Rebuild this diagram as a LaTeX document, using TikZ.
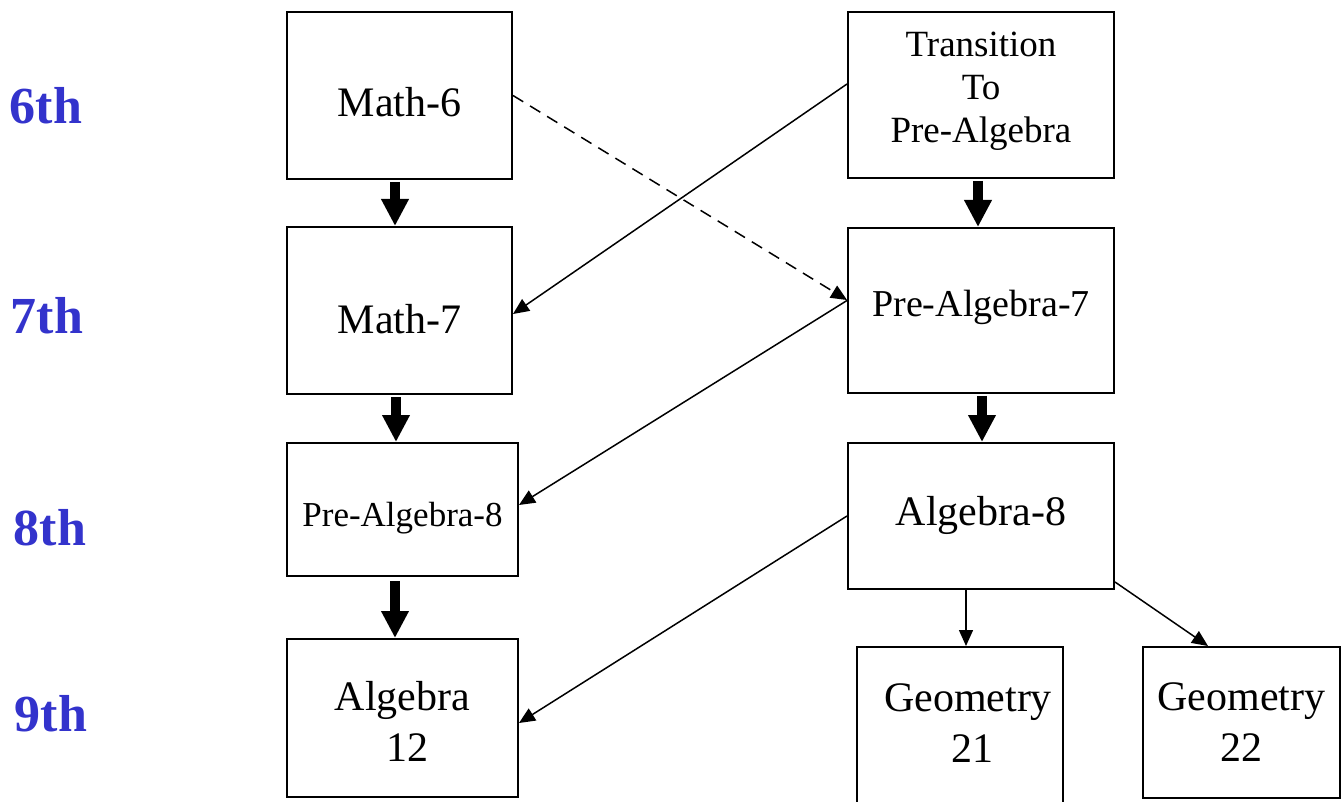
\documentclass[tikz,border=0pt]{standalone}
\usepackage{fontspec}
\setmainfont{Liberation Serif}
\usetikzlibrary{arrows.meta,calc}
\definecolor{gradeblue}{RGB}{51,51,204}
\tikzset{
  box/.style={draw, line width=2pt, inner sep=0pt},
  txt/.style={align=center, inner sep=0pt},
  grade/.style={text=gradeblue, font=\fontsize{52}{60}\selectfont\bfseries, anchor=base},
  big/.style={font=\fontsize{42}{51}\selectfont},
  thick arrow/.style={line width=10pt, -{Triangle[width=26pt,length=27pt]}},
  thin arrow/.style={line width=1.5pt, -{Triangle[width=14pt,length=16pt]}},
}
\begin{document}
\begin{tikzpicture}[x=1pt,y=-1pt]
\useasboundingbox (0,0) rectangle (1342,802);
% grade labels
\node[grade] (g6) at (46,124) {6th};
\node[grade] (g7) at (47,334) {7th};
\node[grade] (g8) at (50,545) {8th};
\node[grade] (g9) at (51,731) {9th};
% boxes
\node[box, minimum width=225pt, minimum height=167pt,
  label={[txt, big, yshift=-7pt]center:Math-6}] (m6) at (399.5,95.5) {};
\node[box, minimum width=266pt, minimum height=166pt,
  label={[txt, font=\fontsize{37}{43}\selectfont, yshift=4pt]center:Transition\\To\\Pre-Algebra}] (tr) at (981,95) {};
\node[box, minimum width=225pt, minimum height=167pt,
  label={[txt, big, yshift=-9pt]center:Math-7}] (m7) at (399.5,310.5) {};
\node[box, minimum width=266pt, minimum height=165pt,
  label={[txt, font=\fontsize{38}{45}\selectfont, yshift=3pt]center:Pre-Algebra-7}] (pa7) at (981,310.5) {};
\node[box, minimum width=231pt, minimum height=133pt,
  label={[txt, font=\fontsize{35}{42}\selectfont, yshift=-9pt]center:Pre-Algebra-8}] (pa8) at (402.5,509.5) {};
\node[box, minimum width=266pt, minimum height=146pt,
  label={[txt, big, yshift=1pt]center:Algebra-8}] (a8) at (981,516) {};
\node[box, minimum width=231pt, minimum height=158pt,
  label={[txt, big, yshift=-3pt]center:Algebra\\\hspace*{0.25em}12}] (a12) at (402.5,718) {};
\node[box, minimum width=206pt, minimum height=170pt,
  label={[txt, big, yshift=9pt, xshift=8pt]center:Geometry\\\hspace*{0.2em}21}] (g21) at (960,732) {};
\node[box, minimum width=197pt, minimum height=151pt,
  label={[txt, big]center:Geometry\\22}] (g22) at (1241.5,722.5) {};
% thick vertical arrows
\draw[thick arrow] ([xshift=-4.5pt,yshift=-2pt]m6.south) -- ([xshift=-4.5pt]m6.south |- m7.north);
\draw[thick arrow] ([xshift=-3pt,yshift=-2pt]tr.south) -- ([xshift=-3pt]tr.south |- pa7.north);
\draw[thick arrow] ([xshift=-3.5pt,yshift=-2pt]m7.south) -- ([xshift=-3.5pt]m7.south |- pa8.north);
\draw[thick arrow] ([xshift=1pt,yshift=-2pt]pa7.south) -- ([xshift=1pt]pa7.south |- a8.north);
\draw[thick arrow] ([xshift=-7.5pt,yshift=-4pt]pa8.south) -- ([xshift=-7.5pt]pa8.south |- a12.north);
% thin arrows
\draw[thin arrow] ([yshift=11pt]tr.west) -- ([yshift=-3.5pt]m7.east);
\draw[thin arrow, dash pattern=on 12pt off 8pt] (m6.east) -- ([yshift=10.5pt]pa7.west);
\draw[thin arrow] ([yshift=10pt]pa7.west) -- ([yshift=4.5pt]pa8.east);
\draw[thin arrow] (a8.west) -- ([yshift=-5pt]a12.east);
\draw[thin arrow] ([xshift=-15pt]a8.south) -- ([xshift=-15pt]a8.south |- g21.north);
\draw[thin arrow] ([yshift=8pt]a8.south east) -- ([xshift=-33.5pt]g22.north);
\end{tikzpicture}
\end{document}
